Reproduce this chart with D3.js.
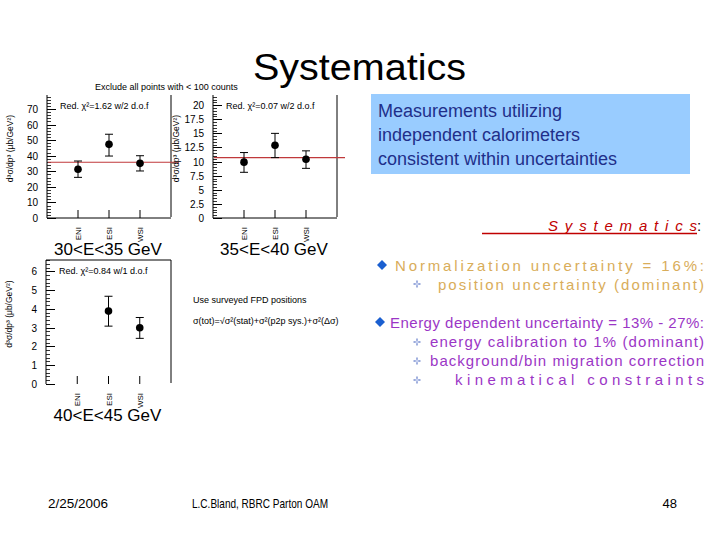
<!DOCTYPE html>
<html><head><meta charset="utf-8">
<script src="https://cdn.jsdelivr.net/npm/d3@7"></script>
<style>body{margin:0;background:#fff}svg{display:block}text{font-family:"Liberation Sans",Arial,sans-serif}</style>
</head><body><svg id="c" width="720" height="540"></svg>
<script>
// ---- data ----
const categories = ["ENI", "ESI", "WSI"];
const panelEnergy = ["30<E<35 GeV", "35<E<40 GeV", "40<E<45 GeV"];
const panelChi2 = ["Red. χ²=1.62 w/2 d.o.f", "Red. χ²=0.07 w/2 d.o.f", "Red. χ²=0.84 w/1 d.o.f"];
const p1Value = [31.3, 47.3, 35.1];
const p1Low = [26.1, 39.8, 30.2];
const p1High = [36.6, 53.8, 40.0];
const p1Fit = 35.8;
const p1Ticks = [0, 10, 20, 30, 40, 50, 60, 70];
const p2Value = [9.9, 12.9, 10.4];
const p2Low = [8.1, 10.7, 8.8];
const p2High = [11.6, 15.0, 11.9];
const p2Fit = 10.7;
const p2Ticks = [0, 2.5, 5, 7.5, 10, 12.5, 15, 17.5, 20];
const p3Value = [null, 3.88, 2.99];
const p3Low = [null, 3.08, 2.43];
const p3High = [null, 4.67, 3.54];
const p3Ticks = [0, 1, 2, 3, 4, 5, 6];

const svg = d3.select("#c");

function panel(o) {
  const g = svg.append("g");
  const x = d3.scaleLinear().domain([0, 4]).range([o.x0, o.x1]);
  const y = d3.scaleLinear().domain([0, o.ymax]).range([o.y0, o.y1]);
  // frame
  g.append("line").attr("x1", o.x0).attr("x2", o.x0).attr("y1", o.y0).attr("y2", o.y1).attr("stroke", "#000");
  g.append("line").attr("x1", o.x1).attr("x2", o.x1).attr("y1", o.y0 - 1).attr("y2", o.y1).attr("stroke", "#000");
  if (o.top) g.append("line").attr("x1", o.x0).attr("x2", o.x1).attr("y1", o.y1).attr("y2", o.y1).attr("stroke", "#000");
  if (o.bottom) g.append("line").attr("x1", o.x0).attr("x2", o.x1).attr("y1", o.y0).attr("y2", o.y0).attr("stroke", "#000");
  // y axis minor ticks (inward)
  const minor = d3.range(0, o.ymax + 1e-9, o.minor);
  g.selectAll(".mn").data(minor).join("line")
    .attr("x1", o.x0).attr("x2", o.x0 + 4)
    .attr("y1", d => Math.round(y(d)) + 0.5).attr("y2", d => Math.round(y(d)) + 0.5)
    .attr("stroke", "#000").attr("stroke-width", 0.8);
  g.selectAll(".mj").data(o.ticks).join("line")
    .attr("x1", o.x0).attr("x2", o.x0 + 9)
    .attr("y1", d => Math.round(y(d)) + 0.5).attr("y2", d => Math.round(y(d)) + 0.5)
    .attr("stroke", "#000");
  g.selectAll(".tl").data(o.ticks).join("text")
    .attr("x", o.x0 - 9).attr("y", d => y(d) + 4)
    .attr("text-anchor", "end").attr("font-size", 10).text(d => d);
  // x category ticks (inward)
  g.selectAll(".xt").data(categories).join("line")
    .attr("x1", (d, i) => x(i + 1)).attr("x2", (d, i) => x(i + 1))
    .attr("y1", o.y0).attr("y2", o.y0 - 8).attr("stroke", "#000");
  g.selectAll(".xl").data(categories).join("text")
    .attr("transform", (d, i) => `translate(${x(i + 1) + 3},${o.y0 + 9}) rotate(-90)`)
    .attr("text-anchor", "end").attr("font-size", 8).text(d => d);
  // fit line
  if (o.fit != null) {
    g.append("line").attr("x1", o.x0 + 1).attr("x2", o.x1 + 8)
      .attr("y1", y(o.fit)).attr("y2", y(o.fit)).attr("stroke", "#c0393b").attr("stroke-width", 1.2);
  }
  // points with errors
  categories.forEach((c, i) => {
    if (o.val[i] == null) return;
    const cx = x(i + 1);
    g.append("line").attr("x1", cx).attr("x2", cx).attr("y1", y(o.lo[i])).attr("y2", y(o.hi[i])).attr("stroke", "#000");
    [o.lo[i], o.hi[i]].forEach(v => g.append("line").attr("x1", cx - 4).attr("x2", cx + 4)
      .attr("y1", y(v)).attr("y2", y(v)).attr("stroke", "#000"));
    g.append("circle").attr("cx", cx).attr("cy", y(o.val[i])).attr("r", 3.8).attr("fill", "#000");
  });
  // chi2 label
  g.append("text").attr("x", o.x0 + 13).attr("y", o.y1 + 14).attr("font-size", 9).text(o.chi2);
  // y title
  g.append("text").attr("transform", `translate(${o.x0 - 34},${(o.y0 + o.y1) / 2 - 8}) rotate(-90)`)
    .attr("text-anchor", "middle").attr("font-size", 8.5).text("d³σ/dp³ (μb/GeV²)");
  // energy label
  g.append("text").attr("x", (o.x0 + o.x1) / 2 - 1).attr("y", o.y0 + 37)
    .attr("text-anchor", "middle").attr("font-size", 17).text(o.energy);
}

panel({x0: 47, x1: 171, y0: 218, y1: 95, ymax: 79, ticks: p1Ticks, minor: 2, val: p1Value, lo: p1Low, hi: p1High, fit: p1Fit, chi2: panelChi2[0], energy: panelEnergy[0], bottom: true});
panel({x0: 213, x1: 337, y0: 218, y1: 95, ymax: 21.8, ticks: p2Ticks, minor: 0.5, val: p2Value, lo: p2Low, hi: p2High, fit: p2Fit, chi2: panelChi2[1], energy: panelEnergy[1], bottom: true});
panel({x0: 46, x1: 171, y0: 384, y1: 260, ymax: 6.6, ticks: p3Ticks, minor: 0.2, val: p3Value, lo: p3Low, hi: p3High, fit: null, chi2: panelChi2[2], energy: panelEnergy[2], top: true});

svg.append("text").attr("x", 95).attr("y", 90).attr("font-size", 9).text("Exclude all points with < 100 counts");
svg.append("text").attr("x", 193).attr("y", 303).attr("font-size", 9).text("Use surveyed FPD positions");
svg.append("text").attr("x", 193).attr("y", 324).attr("font-size", 9).text("σ(tot)=√σ²(stat)+σ²(p2p sys.)+σ²(Δσ)");

// title
svg.append("text").attr("x", 253).attr("y", 80).attr("font-size", 37).attr("fill", "#000")
  .attr("textLength", 213).attr("lengthAdjust", "spacingAndGlyphs").text("Systematics");

// blue box
svg.append("rect").attr("x", 371).attr("y", 94).attr("width", 319).attr("height", 80).attr("fill", "#99ccff");
["Measurements utilizing", "independent calorimeters", "consistent within uncertainties"].forEach((t, i) =>
  svg.append("text").attr("x", 378).attr("y", 117 + i * 24).attr("font-size", 18).attr("fill", "#1f2f8a").text(t));

// systematics heading
svg.append("line").attr("x1", 482).attr("x2", 697).attr("y1", 233.5).attr("y2", 233.5).attr("stroke", "#c00000").attr("stroke-width", 1.3);
svg.append("text").attr("x", 548).attr("y", 231).attr("font-size", 15).attr("font-style", "italic")
  .attr("fill", "#c00000").attr("textLength", 149).attr("lengthAdjust", "spacing").text("Systematics");
svg.append("text").attr("x", 697).attr("y", 231).attr("font-size", 15).attr("fill", "#000").text(":");

function diamond(cx, cy, r, col) {
  svg.append("path").attr("d", `M${cx},${cy - r}L${cx + r},${cy}L${cx},${cy + r}L${cx - r},${cy}Z`).attr("fill", col);
}
function cross(cx, cy) {
  svg.append("path").attr("d", `M${cx - 3.5},${cy}L${cx + 3.5},${cy}M${cx},${cy - 3.5}L${cx},${cy + 3.5}`).attr("stroke", "#7a8fd0").attr("stroke-width", 1.4);
  svg.append("circle").attr("cx", cx).attr("cy", cy).attr("r", 1.6).attr("fill", "#c9d3f0");
}
function line(x0, x1, y, t, col) {
  svg.append("text").attr("x", x0).attr("y", y).attr("font-size", 15).attr("fill", col)
    .attr("textLength", x1 - x0).attr("lengthAdjust", "spacing").text(t);
}
const gold = "#d9ad5a", purple = "#9b36c6";
diamond(382, 265, 5, "#1a5fd0");
line(395, 704, 271, "Normalization uncertainty = 16%:", gold);
cross(417, 284);
line(438, 704, 290, "position uncertainty (dominant)", gold);
diamond(380, 322, 5, "#1a5fd0");
line(390, 704, 328, "Energy dependent uncertainty = 13% - 27%:", purple);
cross(417, 342);
line(430, 704, 347, "energy calibration to 1% (dominant)", purple);
cross(417, 361);
line(430, 704, 366, "background/bin migration correction", purple);
cross(417, 380);
line(455, 704, 385, "kinematical constraints", purple);

// footer
svg.append("text").attr("x", 48).attr("y", 508).attr("font-size", 13)
  .attr("textLength", 60).attr("lengthAdjust", "spacingAndGlyphs").text("2/25/2006");
svg.append("text").attr("x", 192).attr("y", 508).attr("font-size", 13)
  .attr("textLength", 136).attr("lengthAdjust", "spacingAndGlyphs").text("L.C.Bland, RBRC Parton OAM");
svg.append("text").attr("x", 677).attr("y", 508).attr("font-size", 13).attr("text-anchor", "end").text("48");
</script></body></html>
